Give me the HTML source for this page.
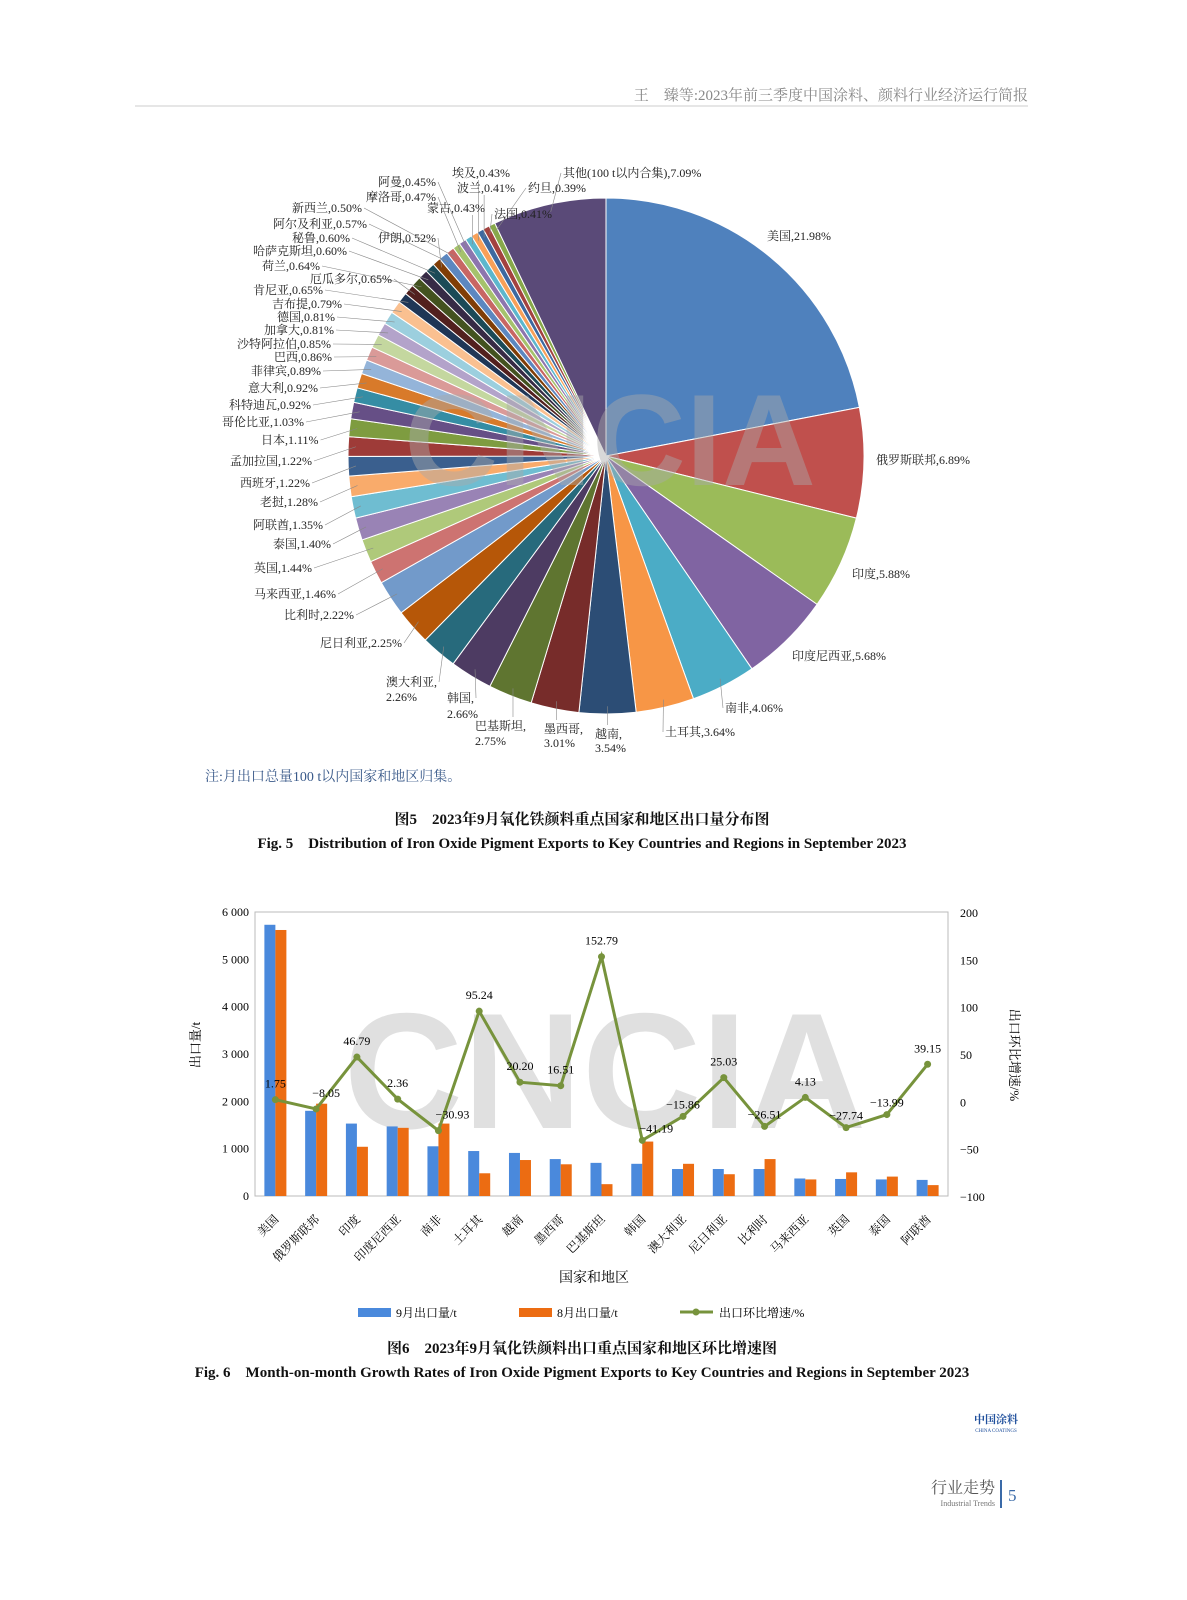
<!DOCTYPE html>
<html><head><meta charset="utf-8">
<style>
body{margin:0;background:#fff;}
#pg{position:relative;width:1187px;height:1600px;overflow:hidden;background:#fff;font-family:"Liberation Serif","Noto Serif CJK SC",serif;}
svg text{font-family:"Liberation Serif","Noto Serif CJK SC",serif;}
svg text.wm{font-family:"Liberation Sans","DejaVu Sans",sans-serif;}
</style></head><body>
<div id="pg">
<svg id="s" width="1187" height="1600" viewBox="0 0 1187 1600" xmlns="http://www.w3.org/2000/svg">
<text x="1028" y="100" text-anchor="end" font-size="15" fill="#888">王　臻等:2023年前三季度中国涂料、颜料行业经济运行简报</text>
<line x1="135" y1="106" x2="1028" y2="106" stroke="#ccc" stroke-width="1"/>
<g id="pie"></g>
<g id="lead" stroke="#888" stroke-width="0.6"></g>
<g id="plabels" font-size="12" fill="#222"></g>
<text x="205" y="781" font-size="14" fill="#3a5a8a">注:月出口总量100 t以内国家和地区归集。</text>
<text x="582" y="824" text-anchor="middle" font-size="15" font-weight="bold" fill="#111">图5　2023年9月氧化铁颜料重点国家和地区出口量分布图</text>
<text x="582" y="848" text-anchor="middle" font-size="15" font-weight="bold" fill="#111">Fig. 5　Distribution of Iron Oxide Pigment Exports to Key Countries and Regions in September 2023</text>
<g id="bar"></g>
<text x="582" y="1353" text-anchor="middle" font-size="15" font-weight="bold" fill="#111">图6　2023年9月氧化铁颜料出口重点国家和地区环比增速图</text>
<text x="582" y="1377" text-anchor="middle" font-size="15" font-weight="bold" fill="#111">Fig. 6　Month-on-month Growth Rates of Iron Oxide Pigment Exports to Key Countries and Regions in September 2023</text>
<text x="996" y="1423" text-anchor="middle" font-size="11" font-weight="bold" fill="#1f4f9c">中国涂料</text>
<text x="996" y="1432" text-anchor="middle" font-size="5" fill="#1f4f9c">CHINA COATINGS</text>
<text x="995" y="1493" text-anchor="end" font-size="16" fill="#555">行业走势</text>
<text x="995" y="1506" text-anchor="end" font-size="8" fill="#777">Industrial Trends</text>
<line x1="1001" y1="1480" x2="1001" y2="1508" stroke="#3a6aa8" stroke-width="2"/>
<text x="1008" y="1501" font-size="17" fill="#3a6aa8">5</text>
</svg>
</div>
<script>
var NS="http://www.w3.org/2000/svg";
function el(p,t,a,txt){var e=document.createElementNS(NS,t);for(var k in a)e.setAttribute(k,a[k]);if(txt!=null)e.textContent=txt;p.appendChild(e);return e;}
var names=["美国","俄罗斯联邦","印度","印度尼西亚","南非","土耳其","越南","墨西哥","巴基斯坦","韩国","澳大利亚","尼日利亚","比利时","马来西亚","英国","泰国","阿联酋","老挝","西班牙","孟加拉国","日本","哥伦比亚","科特迪瓦","意大利","菲律宾","巴西","沙特阿拉伯","加拿大","德国","吉布提","肯尼亚","厄瓜多尔","荷兰","哈萨克斯坦","秘鲁","伊朗","阿尔及利亚","新西兰","摩洛哥","阿曼","蒙古","埃及","波兰","法国","约旦","其他"];
var vals=[21.98,6.89,5.88,5.68,4.06,3.64,3.54,3.01,2.75,2.66,2.26,2.25,2.22,1.46,1.44,1.40,1.35,1.28,1.22,1.22,1.11,1.03,0.92,0.92,0.89,0.86,0.85,0.81,0.81,0.79,0.65,0.65,0.64,0.60,0.60,0.52,0.57,0.50,0.47,0.45,0.43,0.43,0.41,0.41,0.39,7.09];
var pal=["#4F81BD","#C0504D","#9BBB59","#8064A2","#4BACC6","#F79646","#2C4D75","#772C2A","#5F7530","#4D3B62","#276A7C","#B65708","#729ACA","#CD7371","#AFC97A","#9983B5","#6FBDD1","#F9AB6B","#3A5F8E","#9E3B38","#7E9C40","#664F86","#358DA4","#D87A2A","#94B4D9","#DA9A98","#C4D79F","#B3A3CA","#9CCFDE","#FAC090","#1F3656","#52201E","#43521F","#362A45","#1B4A57","#803D06","#5C87C0","#C86664","#A5C26C","#8D75AE","#5DB7CD","#F8A058","#3D69A0","#A3423F","#88A94A"];
var tot=vals.reduce(function(a,b){return a+b},0);
var cx=606,cy=456,r=258,a=0,pg=document.getElementById("pie"),mids=[];
vals.forEach(function(v,i){var a2=a+v/tot*2*Math.PI;mids.push((a+a2)/2);
var x1=cx+r*Math.sin(a),y1=cy-r*Math.cos(a),x2=cx+r*Math.sin(a2),y2=cy-r*Math.cos(a2);
var c=i==vals.length-1?"#5A4A78":pal[i%pal.length];
el(pg,"path",{d:"M"+cx+","+cy+"L"+x1+","+y1+"A"+r+","+r+" 0 "+((a2-a)>Math.PI?1:0)+" 1 "+x2+","+y2+"Z",fill:c,stroke:"#fff","stroke-width":1});a=a2;});
el(pg,"text",{x:610,y:485,"font-size":130,"font-weight":"bold",fill:"#aaa",opacity:0.45,"text-anchor":"middle","class":"wm"},"CNCIA");
var L=[["其他(100 t以内合集),7.09%",563,177],["埃及,0.43%",452,177],["阿曼,0.45%",378,186],["波兰,0.41%",457,192],["约旦,0.39%",528,192],["摩洛哥,0.47%",366,201],["蒙古,0.43%",427,212],["法国,0.41%",494,218],["新西兰,0.50%",292,212],["阿尔及利亚,0.57%",273,228],["伊朗,0.52%",378,242],["秘鲁,0.60%",292,242],["哈萨克斯坦,0.60%",253,255],["荷兰,0.64%",262,270],["厄瓜多尔,0.65%",310,283],["肯尼亚,0.65%",253,294],["吉布提,0.79%",272,308],["德国,0.81%",277,321],["加拿大,0.81%",264,334],["沙特阿拉伯,0.85%",237,348],["巴西,0.86%",274,361],["菲律宾,0.89%",251,375],["意大利,0.92%",248,392],["科特迪瓦,0.92%",229,409],["哥伦比亚,1.03%",222,426],["日本,1.11%",261,444],["孟加拉国,1.22%",230,465],["西班牙,1.22%",240,487],["老挝,1.28%",260,506],["阿联酋,1.35%",253,529],["泰国,1.40%",273,548],["英国,1.44%",254,572],["马来西亚,1.46%",254,598],["比利时,2.22%",284,619],["尼日利亚,2.25%",320,647],["澳大利亚,",386,686],["2.26%",386,701],["韩国,",447,702],["2.66%",447,718],["巴基斯坦,",475,730],["2.75%",475,745],["墨西哥,",544,733],["3.01%",544,747],["越南,",595,738],["3.54%",595,752],["土耳其,3.64%",665,736],["南非,4.06%",725,712],["印度尼西亚,5.68%",792,660],["印度,5.88%",852,578],["俄罗斯联邦,6.89%",876,464],["美国,21.98%",767,240]];
var pl=document.getElementById("plabels"),ld=document.getElementById("lead");
L.forEach(function(l){var t=el(pl,"text",{x:l[1],y:l[2]},l[0]);
var nm=l[0].split(/[,(]/)[0];var idx=names.indexOf(nm);if(idx<0||idx<=3)return;
var m=mids[idx],px=cx+r*0.97*Math.sin(m),py=cy-r*0.97*Math.cos(m);
var w=0;try{w=t.getComputedTextLength();}catch(e){w=l[0].length*9;}
var lx,ly=l[2]-4;
if(px<l[1]){lx=l[1]-2;}else if(px>l[1]+w){lx=l[1]+w+2;}else{lx=px;ly=l[2]+ (py>l[2]?3:-13);}
el(ld,"line",{x1:lx,y1:ly,x2:px,y2:py});});
// bar chart
var b=document.getElementById("bar");
var X0=255,X1=948,Y0=1196,Y1=912;
el(b,"rect",{x:X0,y:Y1,width:X1-X0,height:Y0-Y1,fill:"none",stroke:"#bbb"});
el(b,"text",{x:605,y:1128,"font-size":165,"font-weight":"bold",fill:"#bbb",opacity:0.45,"text-anchor":"middle","class":"wm"},"CNCIA");
var lyv=["0","1 000","2 000","3 000","4 000","5 000","6 000"];
lyv.forEach(function(t,i){el(b,"text",{x:249,y:Y0-i*(Y0-Y1)/6+4,"font-size":12,"text-anchor":"end"},t);});
var ry=["−100","−50","0","50","100","150","200"];
ry.forEach(function(t,i){el(b,"text",{x:960,y:Y0-i*(Y0-Y1)/6+5,"font-size":12},t);});
el(b,"text",{x:200,y:1045,"font-size":13,transform:"rotate(-90 200 1045)","text-anchor":"middle"},"出口量/t");
el(b,"text",{x:1010,y:1055,"font-size":13,transform:"rotate(90 1010 1055)","text-anchor":"middle"},"出口环比增速/%");
var cats=["美国","俄罗斯联邦","印度","印度尼西亚","南非","土耳其","越南","墨西哥","巴基斯坦","韩国","澳大利亚","尼日利亚","比利时","马来西亚","英国","泰国","阿联酋"];
var s9=[5730,1800,1530,1470,1050,950,910,780,700,680,570,570,570,370,360,350,340];
var s8=[5620,1950,1040,1440,1530,480,760,670,250,1150,680,460,780,350,500,410,230];
var g=[1.75,-8.05,46.79,2.36,-30.93,95.24,20.20,16.51,152.79,-41.19,-15.86,25.03,-26.51,4.13,-27.74,-13.99,39.15];
var gl=["1.75","−8.05","46.79","2.36","−30.93","95.24","20.20","16.51","152.79","−41.19","−15.86","25.03","−26.51","4.13","−27.74","−13.99","39.15"];
var w=(X1-X0)/17,ky=(Y0-Y1)/6000,kg=(Y0-Y1)/300,pts=[];
for(var i=0;i<17;i++){var c=X0+w*(i+0.5);
el(b,"rect",{x:c-11,y:Y0-s9[i]*ky,width:11,height:s9[i]*ky,fill:"#4a89dc"});
el(b,"rect",{x:c,y:Y0-s8[i]*ky,width:11,height:s8[i]*ky,fill:"#ec6c12"});
var gy=Y0-(g[i]+100)*kg;pts.push(c+","+gy);
el(b,"text",{x:c+4,y:1220,"font-size":12,"text-anchor":"end",transform:"rotate(-45 "+(c+4)+" 1220)"},cats[i]);}
el(b,"polyline",{points:pts.join(" "),fill:"none",stroke:"#77933c","stroke-width":3});
pts.forEach(function(p,i){var q=p.split(",");el(b,"circle",{cx:q[0],cy:q[1],r:3.5,fill:"#77933c"});
var dy=g[i]<0&&i!=1&&i!=4?-8:-12;el(b,"text",{x:+q[0]+(i==1?10:i==4?14:i==9?14:0),y:+q[1]+dy,"font-size":12,"text-anchor":"middle"},gl[i]);});
el(b,"text",{x:594,y:1282,"font-size":14,"text-anchor":"middle"},"国家和地区");
el(b,"rect",{x:358,y:1308,width:33,height:9,fill:"#4a89dc"});el(b,"text",{x:396,y:1317,"font-size":12},"9月出口量/t");
el(b,"rect",{x:519,y:1308,width:33,height:9,fill:"#ec6c12"});el(b,"text",{x:557,y:1317,"font-size":12},"8月出口量/t");
el(b,"line",{x1:680,y1:1312,x2:713,y2:1312,stroke:"#77933c","stroke-width":3});el(b,"circle",{cx:696,cy:1312,r:3.5,fill:"#77933c"});
el(b,"text",{x:719,y:1317,"font-size":12},"出口环比增速/%");
</script>
</body></html>
